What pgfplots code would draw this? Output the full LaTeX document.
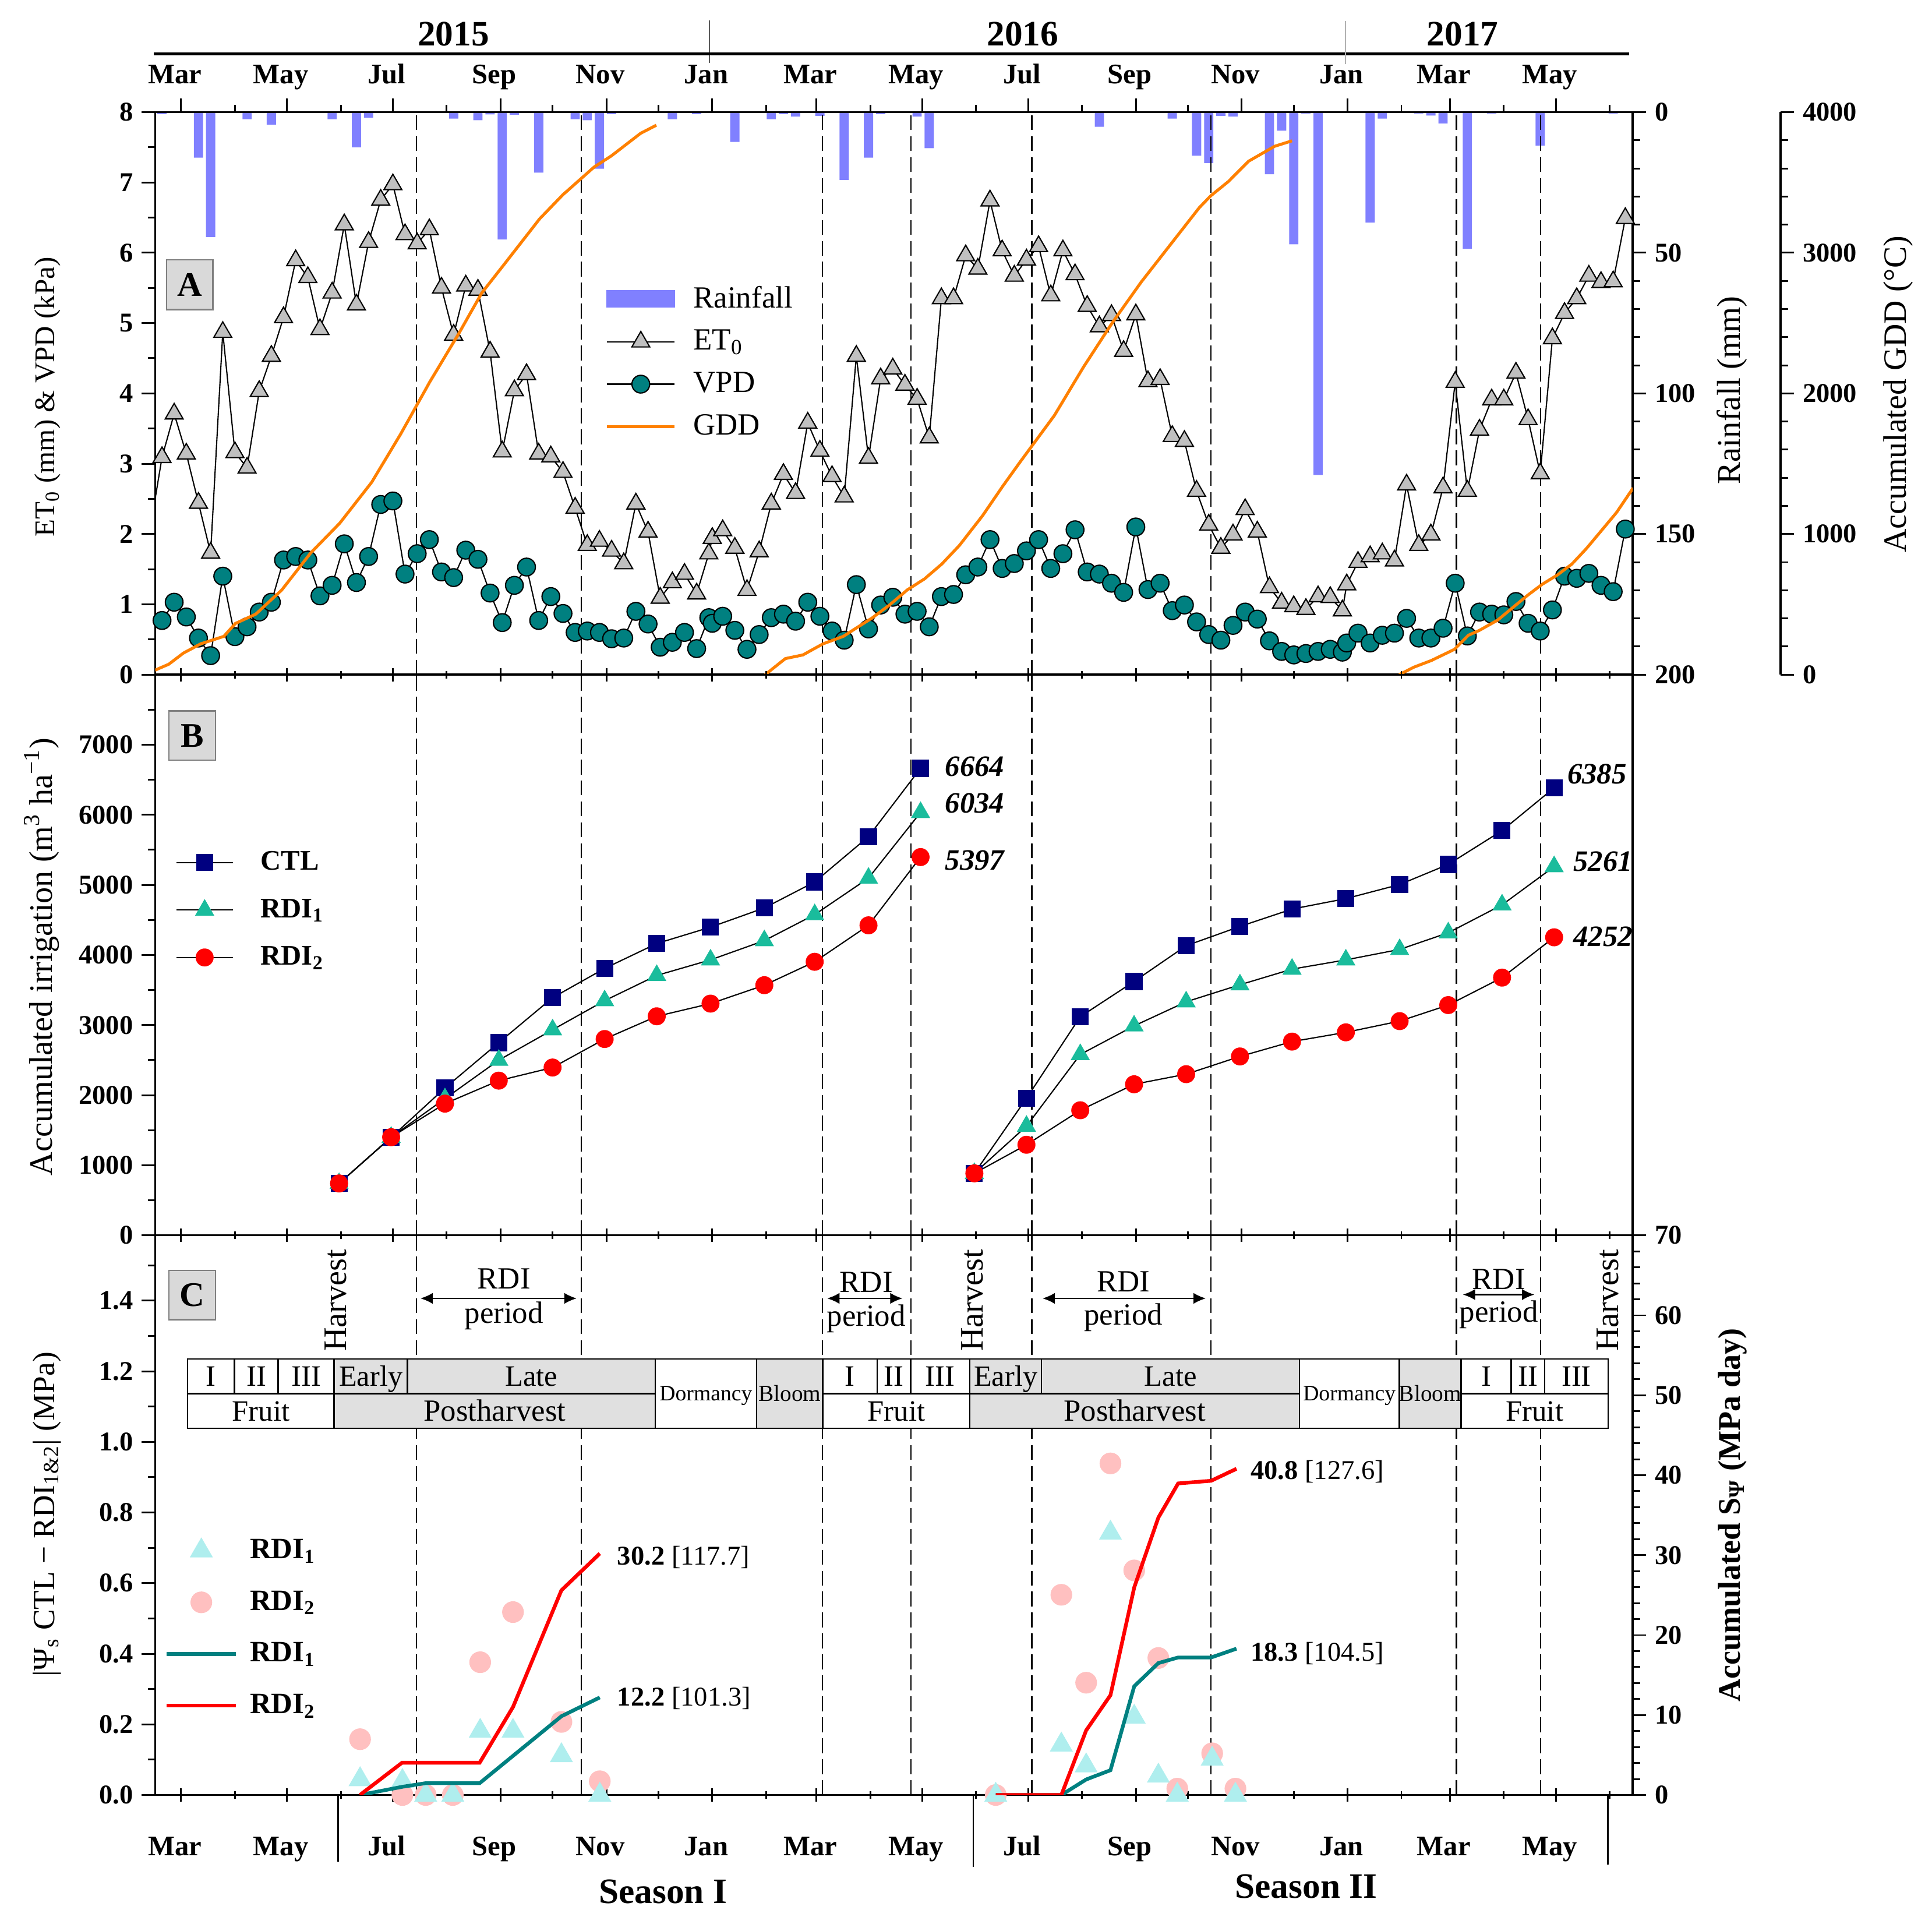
\documentclass[border=0pt]{standalone}
\usepackage{fontspec}
\setmainfont{Liberation Serif}
\usepackage{pgfplots}
\pgfplotsset{compat=1.18}
\usepackage{pgfplotstable}
\usetikzlibrary{arrows.meta}

\definecolor{rainc}{RGB}{128,128,255}
\definecolor{etgray}{RGB}{192,192,192}
\definecolor{vpdc}{RGB}{0,128,128}
\definecolor{gddc}{RGB}{255,128,0}
\definecolor{ctlc}{RGB}{0,0,128}
\definecolor{rdione}{RGB}{26,188,156}
\definecolor{rditwo}{RGB}{255,0,0}
\definecolor{paletri}{RGB}{175,238,238}
\definecolor{palecirc}{RGB}{255,192,192}
\definecolor{tealc}{RGB}{0,128,128}
\definecolor{tabgray}{RGB}{224,224,224}
\definecolor{boxgray}{RGB}{217,217,217}

\pgfplotstableread{
d et vpd
48 3.09 0.77
55 3.71 1.03
62 3.14 0.82
69 2.44 0.52
76 1.73 0.27
83 4.87 1.40
90 3.16 0.54
97 2.94 0.68
104 4.03 0.89
111 4.53 1.03
118 5.08 1.63
125 5.89 1.68
132 5.65 1.63
139 4.91 1.12
146 5.43 1.27
153 6.40 1.86
160 5.26 1.31
167 6.15 1.68
174 6.75 2.42
181 6.97 2.47
188 6.26 1.43
195 6.13 1.72
202 6.33 1.92
209 5.50 1.46
216 4.83 1.38
223 5.53 1.77
230 5.47 1.64
237 4.59 1.16
244 3.17 0.74
251 4.04 1.27
258 4.27 1.53
265 3.14 0.77
272 3.10 1.11
279 2.88 0.87
286 2.37 0.60
293 1.84 0.62
300 1.90 0.60
307 1.76 0.51
314 1.58 0.52
321 2.43 0.90
328 2.03 0.72
335 1.09 0.39
342 1.31 0.46
349 1.43 0.60
356 1.15 0.37
363 1.72 0.81
365 1.94 0.73
371 2.05 0.83
378 1.80 0.63
385 1.20 0.36
392 1.75 0.57
399 2.43 0.81
406 2.85 0.86
413 2.58 0.76
420 3.58 1.03
427 3.18 0.83
434 2.82 0.62
441 2.53 0.49
448 4.53 1.28
455 3.08 0.65
462 4.21 0.99
469 4.35 1.10
476 4.12 0.86
483 3.92 0.90
490 3.37 0.68
497 5.35 1.11
504 5.35 1.14
511 5.96 1.42
518 5.77 1.53
525 6.74 1.92
532 6.03 1.51
539 5.67 1.58
546 5.90 1.76
553 6.09 1.92
560 5.39 1.51
567 6.03 1.72
574 5.69 2.06
581 5.24 1.46
588 4.95 1.43
595 5.11 1.30
602 4.60 1.17
609 5.12 2.10
616 4.17 1.21
623 4.20 1.30
630 3.39 0.91
637 3.32 0.99
644 2.61 0.75
651 2.13 0.57
658 1.80 0.49
665 1.99 0.70
672 2.35 0.89
679 2.03 0.79
686 1.24 0.48
693 1.02 0.33
700 0.97 0.28
707 0.93 0.30
714 1.11 0.33
721 1.10 0.36
728 0.91 0.32
730.5 1.28 0.45
737 1.60 0.59
744 1.68 0.45
751 1.72 0.56
758 1.62 0.59
765 2.70 0.80
772 1.84 0.52
779 1.99 0.52
786 2.66 0.66
793 4.16 1.30
800 2.61 0.55
807 3.48 0.89
814 3.91 0.86
821 3.91 0.85
828 4.29 1.04
835 3.63 0.73
842 2.86 0.62
849 4.78 0.92
856 5.14 1.40
863 5.35 1.37
870 5.67 1.44
877 5.58 1.27
884 5.59 1.18
891 6.49 2.07
}\etvpd

\pgfplotstableread{
d r
48 0.7
69 16.2
76 44.4
97 2.5
111 4.5
146 2.5
160 12.5
167 2.0
216 2.3
230 2.9
237 0.8
244 45.3
251 0.9
265 21.5
286 2.5
293 2.9
300 20.1
307 0.7
342 2.5
356 0.7
378 10.6
399 2.5
406 0.7
413 1.6
427 1.3
441 24.1
455 16.2
462 0.7
483 1.6
490 12.8
588 5.2
630 2.3
644 15.5
651 18.1
658 1.3
665 1.6
686 22.1
693 6.6
700 47.0
707 0.5
714 129.0
744 39.3
751 2.3
772 0.5
779 1.2
786 4.0
800 48.6
814 0.5
842 11.9
884 0.5
}\raintab

\pgfplotstableread{
d ctl rdia rdib
150 740 740 740
180 1397 1400 1400
211 2102 1950 1879
242 2749 2499 2207
273 3390 2933 2394
303 3808 3348 2801
333 4163 3708 3125
364 4397 3930 3306
395 4671 4205 3569
424 5042 4576 3903
455 5689 5097 4423
485 6664 6034 5397
}\irrA

\pgfplotstableread{
d ctl rdia rdib
516 884 884 884
546 1954 1557 1292
577 3119 2580 1784
608 3622 2988 2155
638 4132 3332 2299
669 4407 3575 2552
699 4655 3798 2764
730 4804 3930 2896
761 5005 4079 3056
789 5292 4317 3285
820 5775 4715 3677
850 6385 5261 4252
}\irrB

\pgfplotstableread{
d a b
162.1 0.044 0.158
186.5 0.039 0.0
199.9 0.0 0.0
215.5 0.0 0.0
231.3 0.181 0.376
250.2 0.181 0.518
278.1 0.112 0.207
300.2 0.0 0.039
528.3 0.0 0.0
566.1 0.142 0.567
580.4 0.083 0.318
594.4 0.742 0.939
608.1 0.221 0.636
622.0 0.054 0.388
632.9 0.0 0.018
653.0 0.102 0.118
666.4 0.0 0.018
}\psi

\pgfplotsset{
  panel/.style={scale only axis, anchor=south west, width=599.5pt, xmin=44.1, xmax=895.2,
    axis line style={line width=0.8pt}, every tick/.style={black, line width=0.7pt},
    major tick length=5.5pt, minor tick length=3pt,
    tick label style={font=\bfseries\fontsize{11}{13}\selectfont},
    /pgf/number format/assume math mode=true, /pgf/number format/1000 sep={}},
  months/.style={xtick={59,120,181,243,304,365,425,486,547,609,670,731,790,851},
    minor xtick={90,151,212,273,334,396,456,517,578,639,700,762,821,882}},
  monthlabels/.style={xticklabels={Mar,May,Jul,Sep,Nov,Jan,Mar,May,Jul,Sep,Nov,Jan,Mar,May},
    xticklabel style={font=\bfseries\fontsize{11.5}{13}\selectfont, xshift=-2.5pt,
      text height=8.5pt, text depth=2.5pt}},
  dashes/.style={extra x ticks={194.7,289.5,428.5,479.4,549.1,652.3,793.7,842.3},
    extra x tick labels={},
    extra x tick style={grid=major, major tick length=0pt,
      major grid style={black, line width=0.5pt, dash pattern=on 6pt off 2.5pt}}},
  legA/.style={legend image code/.code={\draw[mark repeat=2,mark phase=2,##1] plot coordinates {(0pt,0pt) (13.75pt,0pt) (27.5pt,0pt)};}},
  legRain/.style={legend image code/.code={\fill[rainc] (0pt,-3.4pt) rectangle (27.5pt,3.4pt);}},
  legB/.style={legend image code/.code={\draw[mark repeat=2,mark phase=2,##1] plot coordinates {(0pt,0pt) (11.5pt,0pt) (23pt,0pt)};}},
  legC/.style={legend image code/.code={\draw[mark repeat=2,mark phase=2,##1] plot coordinates {(0pt,0pt) (14pt,0pt) (28pt,0pt)};}},
}

\newcommand\cell[7]{%
  \filldraw[fill=#5,draw=black,line width=0.6pt] (#1,#2) rectangle (#3,#4);
  \node[font=\fontsize{#6}{#6}\selectfont, inner sep=0pt, anchor=base] at ({(#1+#3)/2},{(#2+#4)/2+0.66*#6}) {#7};}

\begin{document}
\begin{tikzpicture}
\path[use as bounding box] (0,0) rectangle (784pt,780.5pt);

%================ PANEL A ================
\begin{axis}[panel, at={(63pt,506.75pt)}, height=228.25pt, ymin=0, ymax=200, y dir=reverse,
  axis y line*=right, axis x line=none, ytick={0,50,100,150,200}, minor y tick num=4,
  tick align=outside]
\addplot[ybar, bar width=3.75pt, fill=rainc, draw=none] table[x=d,y=r] {\raintab};
\end{axis}

\begin{axis}[panel, months, monthlabels, dashes, at={(63pt,506.75pt)}, height=228.25pt,
  ymin=0, ymax=8, ytick={0,1,2,3,4,5,6,7,8}, minor ytick={0.5,1.5,2.5,3.5,4.5,5.5,6.5,7.5},
  xtick pos=right, xticklabel pos=right, ytick pos=left, tick align=outside,
  legend style={at={(0.3044,0.7005)}, anchor=north west, draw=none, fill=none, inner sep=0pt,
    row sep=3.5pt, font=\fontsize{12.5}{14}\selectfont,
    /tikz/every odd column/.append style={column sep=5pt}},
  legend cell align=left]
\addlegendimage{legRain}
\addlegendentry{Rainfall}
\addplot[forget plot, black, line width=0.5pt] coordinates {(41,2.05) (48,3.09)};
\addplot[legA, black, line width=0.5pt, mark=triangle*, mark size=4.2pt,
  mark options={fill=etgray, draw=black, line width=0.5pt}] table[x=d,y=et] {\etvpd};
\addlegendentry{ET\textsubscript{0}}
\addplot[legA, black, line width=0.5pt, mark=*, mark size=3.6pt,
  mark options={fill=vpdc, draw=black, line width=0.5pt}] table[x=d,y=vpd] {\etvpd};
\addlegendentry{VPD}
\addlegendimage{legA, gddc, line width=1.2pt}
\addlegendentry{GDD}
\end{axis}

\begin{axis}[panel, hide axis, at={(63pt,506.75pt)}, height=228.25pt, ymin=0, ymax=4000]
\addplot[gddc, line width=1.2pt] coordinates {(40,20) (44.4,34) (51.9,74) (60.3,153) (70.3,219) (83.6,272) (90.3,364) (102,430) (117,602) (133.7,866) (150.4,1077) (168.8,1368) (185.5,1711) (202.2,2080) (218.9,2424) (232.2,2714) (245.6,2925) (265.6,3242) (279,3413) (297,3610) (307,3690) (323.7,3849) (332.8,3907)};
\addplot[gddc, line width=1.2pt] coordinates {(395.5,0) (407.1,114) (417.2,140) (428.8,219) (440.5,272) (448.8,338) (457.2,404) (467.2,496) (477.3,602) (487.3,681) (497.3,787) (507.4,919) (520.7,1130) (532.4,1341) (542.4,1513) (562.1,1843) (578.8,2186) (595.5,2503) (612.2,2793) (628.9,3057) (645.6,3321) (652.2,3405) (662.3,3506) (674,3651) (689,3757) (699,3796)};
\addplot[gddc, line width=1.2pt] coordinates {(760.8,0) (769.2,53) (779.2,100) (792.6,180) (800.6,280) (807,315) (817.5,388) (834.6,563) (843.2,643) (851.7,707) (860.2,786) (868.7,898) (877.3,1025) (885.9,1152) (895.5,1327)};
\end{axis}

\begin{axis}[scale only axis, anchor=south west, at={(721.5pt,506.75pt)}, width=1pt, height=228.25pt,
  xmin=0, xmax=1, ymin=0, ymax=4000, axis y line*=right, axis x line=none,
  ytick={0,1000,2000,3000,4000}, minor y tick num=4, tick align=outside,
  axis line style={line width=0.8pt}, every tick/.style={black, line width=0.7pt},
  major tick length=5.5pt, minor tick length=3pt,
  tick label style={font=\bfseries\fontsize{11}{13}\selectfont},
  /pgf/number format/assume math mode=true, /pgf/number format/1000 sep={}]
\end{axis}

%================ PANEL B ================
\begin{axis}[panel, months, dashes, at={(63pt,279.25pt)}, height=227.5pt,
  ymin=0, ymax=8000, xticklabels={}, xtick pos=both, xtick align=center,
  ytick={0,1000,2000,3000,4000,5000,6000,7000}, minor ytick={500,1500,2500,3500,4500,5500,6500,7500},
  ytick pos=left, ytick align=outside,
  legend style={at={(0.0135,0.6945)}, anchor=north west, draw=none, fill=none, inner sep=0pt,
    row sep=6.2pt, font=\bfseries\fontsize{11.5}{13}\selectfont,
    /tikz/every odd column/.append style={column sep=9pt}},
  legend cell align=left]
\addplot[legB, black, line width=0.5pt, mark=square*, mark size=3.2pt, mark options={fill=ctlc, draw=ctlc}] table[x=d,y=ctl] {\irrA};
\addlegendentry{CTL}
\addplot[legB, black, line width=0.5pt, mark=triangle*, mark size=4pt, mark options={fill=rdione, draw=rdione}] table[x=d,y=rdia] {\irrA};
\addlegendentry{RDI\textsubscript{1}}
\addplot[legB, black, line width=0.5pt, mark=*, mark size=3.4pt, mark options={fill=rditwo, draw=rditwo}] table[x=d,y=rdib] {\irrA};
\addlegendentry{RDI\textsubscript{2}}
\addplot[black, line width=0.5pt, mark=square*, mark size=3.2pt, mark options={fill=ctlc, draw=ctlc}] table[x=d,y=ctl] {\irrB};
\addplot[black, line width=0.5pt, mark=triangle*, mark size=4pt, mark options={fill=rdione, draw=rdione}] table[x=d,y=rdia] {\irrB};
\addplot[black, line width=0.5pt, mark=*, mark size=3.4pt, mark options={fill=rditwo, draw=rditwo}] table[x=d,y=rdib] {\irrB};
\end{axis}

%================ PANEL C ================
\begin{axis}[panel, months, monthlabels, dashes, at={(63pt,52.15pt)}, height=227.1pt,
  ymin=0, ymax=1.585, xtick pos=both, xtick align=center,
  xticklabel style={yshift=-9.7pt},
  ytick={0,0.2,0.4,0.6,0.8,1.0,1.2,1.4}, minor ytick={0.1,0.3,0.5,0.7,0.9,1.1,1.3,1.5},
  ytick pos=left, ytick align=outside,
  yticklabel style={/pgf/number format/.cd, fixed, fixed zerofill, precision=1}]
\addplot[only marks, mark=*, mark size=4.2pt, palecirc, mark options={draw=none, fill=palecirc}] table[x=d,y=b] {\psi};
\addplot[only marks, mark=triangle*, mark size=5pt, paletri, mark options={draw=none, fill=paletri}] table[x=d,y=a] {\psi};
\end{axis}

\begin{axis}[panel, at={(63pt,52.15pt)}, height=227.1pt, ymin=0, ymax=70,
  axis y line*=right, axis x line=none, ytick={0,10,20,30,40,50,60,70}, minor y tick num=4,
  tick align=outside,
  legend style={at={(0.00626,0.4668)}, anchor=north west, draw=none, fill=none, inner sep=0pt,
    row sep=7.6pt, font=\bfseries\fontsize{12}{14}\selectfont,
    /tikz/every odd column/.append style={column sep=3pt}},
  legend cell align=left]
\addlegendimage{only marks, mark=triangle*, mark size=5pt, paletri, mark options={draw=none, fill=paletri}, legC}
\addlegendentry{RDI\textsubscript{1}}
\addlegendimage{only marks, mark=*, mark size=4.2pt, palecirc, mark options={draw=none, fill=palecirc}, legC}
\addlegendentry{RDI\textsubscript{2}}
\addplot[legC, tealc, line width=1.5pt] coordinates {(162,0) (186.3,1.02) (199.9,1.48) (231,1.48) (278.1,9.85) (300.2,12.2)};
\addlegendentry{RDI\textsubscript{1}}
\addplot[legC, rditwo, line width=1.5pt] coordinates {(162,0) (186.3,4.04) (231,4.04) (250.2,11.0) (278.1,25.6) (300.2,30.2)};
\addlegendentry{RDI\textsubscript{2}}
\addplot[forget plot, tealc, line width=1.5pt] coordinates {(528.3,0) (566.1,0) (580.4,1.94) (594.4,3.10) (608.1,13.6) (622.0,16.5) (633.4,17.2) (652.4,17.2) (667,18.3)};
\addplot[forget plot, rditwo, line width=1.5pt] coordinates {(528.3,0) (566.1,0) (580.4,8.08) (594.4,12.48) (608.1,25.97) (622.0,34.7) (633.4,38.97) (652.4,39.3) (667,40.8)};
\end{axis}

%================ OVERLAY (shown-pixel coordinates) ================
\begin{scope}[x=0.5pt, y=-0.5pt, shift={(0pt,780.5pt)}]
% header
\node[font=\bfseries\fontsize{14.5}{16}\selectfont] at (368,27.6) {2015};
\node[font=\bfseries\fontsize{14.5}{16}\selectfont] at (830,27.6) {2016};
\node[font=\bfseries\fontsize{14.5}{16}\selectfont] at (1187,27.6) {2017};
\draw[line width=1pt] (125,43.8) -- (1322,43.8);
\draw[line width=0.4pt] (576,16.5) -- (576,51);
\draw[line width=0.4pt, black!30] (1092,17) -- (1092,52);

% panel labels
\node[draw=gray, fill=boxgray, line width=0.6pt, minimum width=18.9pt, minimum height=20.2pt, inner sep=0pt,
  font=\bfseries\fontsize{14}{16}\selectfont] at (154,231.1) {A};
\node[draw=gray, fill=boxgray, line width=0.6pt, minimum width=19pt, minimum height=20pt, inner sep=0pt,
  font=\bfseries\fontsize{14}{16}\selectfont] at (156,597) {B};
\node[draw=gray, fill=boxgray, line width=0.6pt, minimum width=19pt, minimum height=20pt, inner sep=0pt,
  font=\bfseries\fontsize{14}{16}\selectfont] at (156,1051) {C};

% axis labels
\node[rotate=90, font=\fontsize{11.6}{13}\selectfont] at (38.6,322) {ET\textsubscript{0} (mm) \& VPD (kPa)};
\node[rotate=90, font=\fontsize{13.3}{15}\selectfont] at (34,776.5) {Accumulated irrigation (m\textsuperscript{3} ha\textsuperscript{−1})};
\node[rotate=90, font=\fontsize{12.6}{14}\selectfont] at (38,1229) {|Ψ\textsubscript{s} CTL − RDI\textsubscript{1\&2}| (MPa)};
\node[rotate=90, font=\fontsize{13.4}{15}\selectfont] at (1405.7,316.6) {Rainfall (mm)};
\node[rotate=90, font=\fontsize{13.2}{15}\selectfont] at (1540.5,320) {Accumulated GDD (°C)};
\node[rotate=90, font=\bfseries\fontsize{12.8}{14}\selectfont] at (1406,1229.6) {Accumulated S\textsubscript{Ψ} (MPa day)};

% panel B value labels
\begin{scope}[font=\bfseries\itshape\fontsize{12}{14}\selectfont]
\node[anchor=west] at (760,622) {6664};
\node[anchor=west] at (760,652) {6034};
\node[anchor=west] at (760,698) {5397};
\node[anchor=west] at (1265,628) {6385};
\node[anchor=west] at (1270,699) {5261};
\node[anchor=west] at (1270,760) {4252};
\end{scope}

% panel C value labels
\begin{scope}[font=\fontsize{11}{13}\selectfont]
\node[anchor=west] at (494,1264) {\textbf{30.2} [117.7]};
\node[anchor=west] at (494,1378.4) {\textbf{12.2} [101.3]};
\node[anchor=west] at (1008,1194.5) {\textbf{40.8} [127.6]};
\node[anchor=west] at (1008,1341.6) {\textbf{18.3} [104.5]};
\end{scope}

% phenology table
\cell{152.3}{1102.8}{190.3}{1131.1}{white}{12}{I}
\cell{190.3}{1102.8}{225.8}{1131.1}{white}{12}{II}
\cell{225.8}{1102.8}{271.2}{1131.1}{white}{12}{III}
\cell{271.2}{1102.8}{330.7}{1131.1}{tabgray}{11.9}{Early}
\cell{330.7}{1102.8}{531.8}{1131.1}{tabgray}{12}{Late}
\cell{152.3}{1131.1}{271.2}{1159.2}{white}{12}{Fruit}
\cell{271.2}{1131.1}{531.8}{1159.2}{tabgray}{12.5}{Postharvest}
\cell{531.8}{1102.8}{614.0}{1159.2}{white}{8.9}{Dormancy}
\cell{614.0}{1102.8}{667.8}{1159.2}{tabgray}{9.3}{Bloom}
\cell{667.8}{1102.8}{711.9}{1131.1}{white}{12}{I}
\cell{711.9}{1102.8}{739.0}{1131.1}{white}{12}{II}
\cell{739.0}{1102.8}{787.1}{1131.1}{white}{12}{III}
\cell{667.8}{1131.1}{787.1}{1159.2}{white}{12}{Fruit}
\cell{787.1}{1102.8}{845.3}{1131.1}{tabgray}{11.9}{Early}
\cell{845.3}{1102.8}{1054.7}{1131.1}{tabgray}{12}{Late}
\cell{787.1}{1131.1}{1054.7}{1159.2}{tabgray}{12.5}{Postharvest}
\cell{1054.7}{1102.8}{1135.6}{1159.2}{white}{8.9}{Dormancy}
\cell{1135.6}{1102.8}{1185.8}{1159.2}{tabgray}{9.3}{Bloom}
\cell{1185.8}{1102.8}{1226.5}{1131.1}{white}{12}{I}
\cell{1226.5}{1102.8}{1253.6}{1131.1}{white}{12}{II}
\cell{1253.6}{1102.8}{1305.2}{1131.1}{white}{12}{III}
\cell{1185.8}{1131.1}{1305.2}{1159.2}{white}{12}{Fruit}

% harvest labels
\node[rotate=90, anchor=west, inner sep=0pt, font=\fontsize{13.3}{15}\selectfont] at (272.5,1097) {Harvest};
\node[rotate=90, anchor=west, inner sep=0pt, font=\fontsize{13.3}{15}\selectfont] at (789,1097) {Harvest};
\node[rotate=90, anchor=west, inner sep=0pt, font=\fontsize{13.3}{15}\selectfont] at (1305,1097) {Harvest};

% RDI periods
\begin{scope}[font=\fontsize{12.5}{14}\selectfont]
\draw[{Latex[length=5pt,width=4.5pt]}-{Latex[length=5pt,width=4.5pt]}, line width=0.6pt] (341.2,1053.7) -- (468,1053.7);
\node at (409,1037.7) {RDI}; \node at (409,1068) {period};
\draw[{Latex[length=5pt,width=4.5pt]}-{Latex[length=5pt,width=4.5pt]}, line width=0.6pt] (671.3,1053.7) -- (732.5,1053.7);
\node at (703,1040.7) {RDI}; \node at (703,1070) {period};
\draw[{Latex[length=5pt,width=4.5pt]}-{Latex[length=5pt,width=4.5pt]}, line width=0.6pt] (846.1,1053.7) -- (978.6,1053.7);
\node at (911.7,1040) {RDI}; \node at (911.7,1069) {period};
\draw[{Latex[length=5pt,width=4.5pt]}-{Latex[length=5pt,width=4.5pt]}, line width=0.6pt] (1187.2,1050.6) -- (1245.3,1050.6);
\node at (1216.4,1038) {RDI}; \node at (1216.4,1067) {period};
\end{scope}

% seasons
\draw[line width=0.6pt] (274.5,1457) -- (274.5,1511);
\draw[line width=0.6pt] (790,1457) -- (790,1515);
\draw[line width=0.6pt] (1305,1457) -- (1305,1513);
\node[font=\bfseries\fontsize{14.5}{16}\selectfont] at (538,1535) {Season I};
\node[font=\bfseries\fontsize{14.5}{16}\selectfont] at (1060,1531) {Season II};
\end{scope}
\end{tikzpicture}
\end{document}
